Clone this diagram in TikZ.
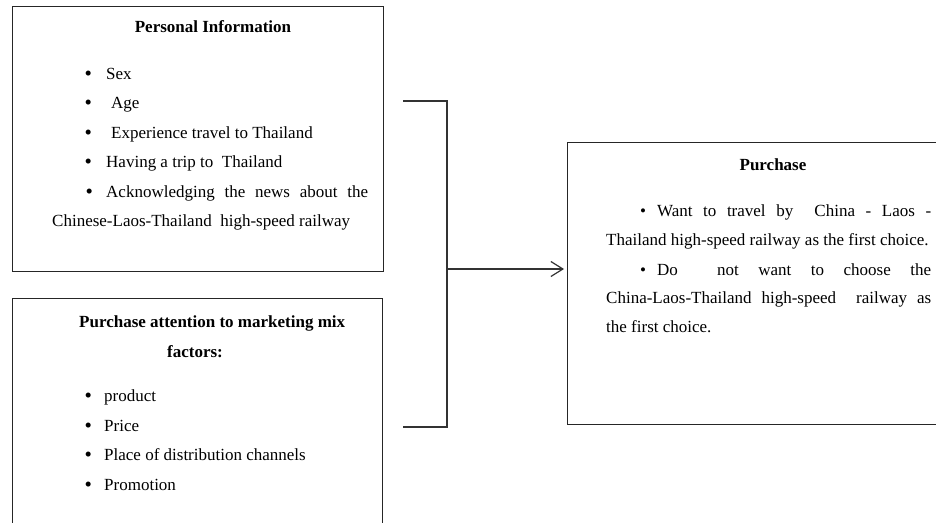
\documentclass[tikz,border=0pt]{standalone}
\usepackage{fontspec}
\setmainfont{Liberation Serif}
\usetikzlibrary{arrows.meta}

\newcommand{\bigbul}{\makebox[6pt]{\raisebox{-1.3pt}{\fontsize{21}{21}\selectfont\textbullet}}}

\tikzset{
  box/.style={draw=black!85, line width=1.2pt, inner sep=0pt, anchor=north west},
  item/.style={anchor=base west, inner sep=0pt, font=\fontsize{17}{29.6}\selectfont},
  head/.style={anchor=base, inner sep=0pt, font=\bfseries\fontsize{17}{29.6}\selectfont},
  para/.style={item, align=justify},
  link/.style={draw=black!80, line width=1.2pt},
}

\begin{document}
\begin{tikzpicture}[x=1pt, y=-1pt]
            \useasboundingbox (0,0) rectangle (936,522);
            \clip (0,0) rectangle (936,522);
            % personal information
            \node[box, minimum width=371pt, minimum height=265pt] (info) at (12,6) {};
            \node[head] (infotitle) at (213,32) {Personal Information};
            \node[item] (sex) at (85,79) {\bigbul\hspace{15pt}Sex};
            \node[item] (age) at (85,108.5) {\bigbul\hspace{20pt}Age};
            \node[item] (exper) at (85,138) {\bigbul\hspace{20pt}Experience travel to Thailand};
            \node[item] (trip) at (85,167.5) {\bigbul\hspace{15pt}Having a trip to\ \ Thailand};
            \node[para, text width=316pt] (news) at (52,197) {\hspace*{34pt}\bigbul\hspace{14pt}Acknowledging the news about the\linebreak Chinese-Laos-Thailand\ \ high-speed railway};
            % marketing mix
            \node[box, minimum width=370pt, minimum height=260pt] (mix) at (12,298) {};
            \node[item, font=\bfseries\fontsize{17}{29.6}\selectfont] (mixtitle) at (79,327) {Purchase attention to marketing mix};
            \node[head] (factors) at (195,357) {factors:};
            \node[item] (product) at (85,401.5) {\bigbul\hspace{13pt}product};
            \node[item] (price) at (85,431) {\bigbul\hspace{13pt}Price};
            \node[item] (place) at (85,460.5) {\bigbul\hspace{13pt}Place of distribution channels};
            \node[item] (promo) at (85,490) {\bigbul\hspace{13pt}Promotion};
            % purchase
            \node[box, minimum width=400pt, minimum height=282pt] (purchase) at (567,142) {};
            \node[head] (ptitle) at (773,170) {Purchase};
            \node[para, text width=325pt, font=\fontsize{17}{28.6}\selectfont] (want) at (606,216.5) {\hspace*{34pt}\textbullet\hspace{11pt}Want to travel by\ \ China - Laos -\linebreak Thailand high-speed railway as the first choice.};
            \node[para, text width=325pt, font=\fontsize{17}{28.6}\selectfont] (notwant) at (606,275) {\hspace*{34pt}\textbullet\hspace{11pt}Do\ \ not want to choose the\linebreak China-Laos-Thailand high-speed\ \ railway as\linebreak the first choice.};
            % bracket and arrow
            \coordinate (btop) at (403,101);
            \coordinate (bbot) at (403,427);
            \coordinate (bmid) at (447,269);
            \draw[link] (btop) -| (bmid) |- (bbot);
            \draw[link, -{Straight Barb[length=12pt, width=15pt]}, shorten >=3pt] (bmid) -- (purchase.west |- bmid);
        \end{tikzpicture}
\end{document}
